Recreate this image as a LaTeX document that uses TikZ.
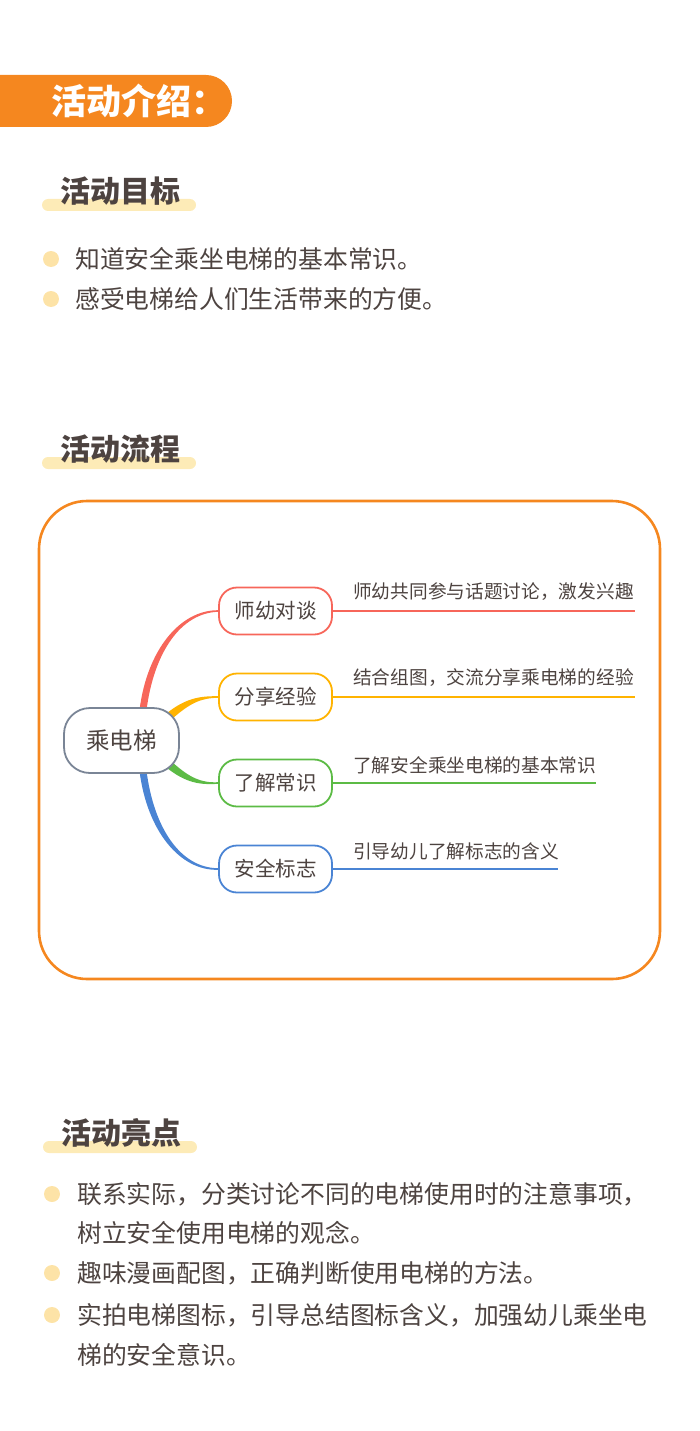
\documentclass[tikz,border=0pt]{standalone}
\usepackage{fontspec}
\setmainfont{Noto Sans CJK SC}
\usetikzlibrary{positioning,backgrounds}

\definecolor{bannerorange}{HTML}{F5871F}
\definecolor{marker}{HTML}{FDEBB7}
\definecolor{dot}{HTML}{FDE3A7}
\definecolor{ink}{HTML}{4D4340}
\definecolor{redbr}{HTML}{F7665A}
\definecolor{yellowbr}{HTML}{FFB300}
\definecolor{greenbr}{HTML}{5CBB45}
\definecolor{bluebr}{HTML}{4A84D4}
\definecolor{rootgray}{HTML}{7A8596}

\tikzset{
  heading/.style={anchor=west, inner sep=0pt, text=ink, font=\fontsize{30}{30}\selectfont\bfseries},
  bullet/.style={circle, fill=dot, minimum size=16pt, inner sep=0pt},
  item/.style={anchor=west, inner sep=0pt, text=ink, font=\fontsize{24.8}{24.8}\selectfont},
  topic/.style={draw, fill=white, rounded corners=18pt, line width=1.8pt, minimum width=113pt,
    minimum height=47pt, inner sep=0pt, text=ink, font=\fontsize{20.5}{20.5}\selectfont},
  leafline/.style={line width=2pt},
  leaf/.style={anchor=west, inner sep=0pt, text=ink, font=\fontsize{18.7}{18.7}\selectfont},
}

\begin{document}
\begin{tikzpicture}[x=1pt,y=1pt]
\useasboundingbox (0,0) rectangle (700,-1431);
% banner
\fill [bannerorange] (0,-75) -- (206,-75) arc (90:-90:26) -- (0,-127) -- cycle;
\node [anchor=west, inner sep=0pt, text=white, font=\fontsize{35}{35}\selectfont\bfseries] (intro) at (51,-101) {活动介绍：};
% goals
\fill [marker, rounded corners=6pt] (42,-199) rectangle (196,-211);
\node [heading] (goal) at (60,-191) {活动目标};
\node [bullet] (g1dot) at (51,-259) {};
\node [item] (g1) at (75,-259) {知道安全乘坐电梯的基本常识。};
\node [bullet] (g2dot) at (51,-299) {};
\node [item] (g2) at (75,-299) {感受电梯给人们生活带来的方便。};
% process
\fill [marker, rounded corners=6pt] (42,-457) rectangle (196,-469);
\node [heading] (flow) at (60,-449) {活动流程};
\draw [bannerorange, line width=2.6pt, rounded corners=48pt] (39,-501) rectangle (660,-979);
% mind map
\node [topic, draw=rootgray, minimum width=115pt, minimum height=65pt, rounded corners=26pt,
  font=\fontsize{23.5}{23.5}\selectfont] (root) at (121.5,-740.5) {乘电梯};
\node [topic, draw=redbr] (talk) at (275.5,-611) {师幼对谈};
\node [topic, draw=yellowbr] (share) at (275.5,-697) {分享经验};
\node [topic, draw=greenbr] (know) at (275.5,-783) {了解常识};
\node [topic, draw=bluebr] (sign) at (275.5,-869) {安全标志};
\begin{pgfonlayer}{background}
\fill [redbr] ([xshift=18pt,yshift=-3pt]root.north) .. controls (147,-650) and (180,-610) .. ([yshift=0.8pt]talk.west)
  -- ([yshift=-0.8pt]talk.west) .. controls (181,-613) and (154,-652) .. ([xshift=25pt,yshift=-3pt]root.north) -- cycle;
\fill [yellowbr] ([xshift=-13pt,yshift=-6pt]root.north east) .. controls (186,-698) and (200,-696) .. ([yshift=0.8pt]share.west)
  -- ([yshift=-0.8pt]share.west) .. controls (201,-698) and (190,-703) .. ([xshift=-8pt,yshift=-12pt]root.north east) -- cycle;
\fill [greenbr] ([xshift=-13pt,yshift=6pt]root.south east) .. controls (186,-783) and (200,-785) .. ([yshift=-0.8pt]know.west)
  -- ([yshift=0.8pt]know.west) .. controls (201,-783) and (190,-778) .. ([xshift=-8pt,yshift=12pt]root.south east) -- cycle;
\fill [bluebr] ([xshift=18pt,yshift=3pt]root.south) .. controls (147,-831) and (180,-871) .. ([yshift=-0.8pt]sign.west)
  -- ([yshift=0.8pt]sign.west) .. controls (181,-868) and (154,-829) .. ([xshift=25pt,yshift=3pt]root.south) -- cycle;
\end{pgfonlayer}
\coordinate (talkend) at (635,-611);
\coordinate (shareend) at (635,-697);
\coordinate (knowend) at (596,-783);
\coordinate (signend) at (558,-869);
\draw [leafline, redbr] (talk.east) -- (talkend);
\draw [leafline, yellowbr] (share.east) -- (shareend);
\draw [leafline, greenbr] (know.east) -- (knowend);
\draw [leafline, bluebr] (sign.east) -- (signend);
\node [leaf] (talktxt) at (353,-592) {师幼共同参与话题讨论，激发兴趣};
\node [leaf] (sharetxt) at (353,-678) {结合组图，交流分享乘电梯的经验};
\node [leaf] (knowtxt) at (353,-765) {了解安全乘坐电梯的基本常识};
\node [leaf] (signtxt) at (353,-851) {引导幼儿了解标志的含义};
% highlights
\fill [marker, rounded corners=6pt] (43,-1141) rectangle (197,-1153);
\node [heading] (point) at (61,-1133) {活动亮点};
\node [bullet] (h1dot) at (52,-1194) {};
\node [item] (h1) at (77,-1194) {联系实际，分类讨论不同的电梯使用时的注意事项，};
\node [item] (h1b) at (77,-1233) {树立安全使用电梯的观念。};
\node [bullet] (h2dot) at (52,-1273) {};
\node [item] (h2) at (77,-1273) {趣味漫画配图，正确判断使用电梯的方法。};
\node [bullet] (h3dot) at (52,-1315) {};
\node [item] (h3) at (77,-1315) {实拍电梯图标，引导总结图标含义，加强幼儿乘坐电};
\node [item] (h3b) at (77,-1355) {梯的安全意识。};
\end{tikzpicture}
\end{document}
